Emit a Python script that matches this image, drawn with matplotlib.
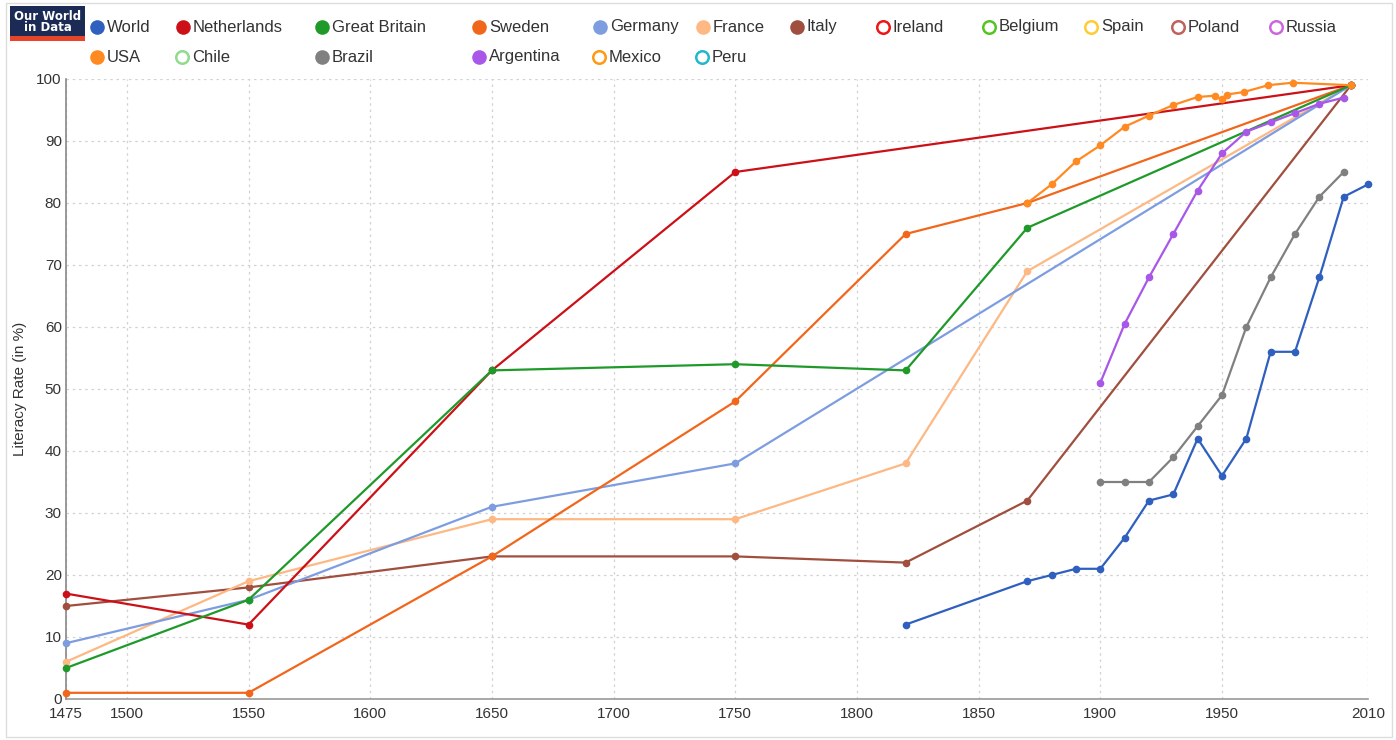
import matplotlib
matplotlib.use("Agg")
import matplotlib.pyplot as plt
from matplotlib.patches import Rectangle

plt.rcParams['font.family'] = ['Liberation Sans', 'DejaVu Sans']

# ---- data ----
world_years = [1820, 1870, 1880, 1890, 1900, 1910, 1920, 1930, 1940, 1950, 1960, 1970, 1980, 1990, 2000, 2010]
world = [12, 19, 20, 21, 21, 26, 32, 33, 42, 36, 42, 56, 56, 68, 81, 83]

netherlands_years = [1475, 1550, 1650, 1750, 2003]
netherlands = [17, 12, 53, 85, 99]

gb_years = [1475, 1550, 1650, 1750, 1820, 1870, 2003]
gb = [5, 16, 53, 54, 53, 76, 99]

sweden_years = [1475, 1550, 1650, 1750, 1820, 1870, 2003]
sweden = [1, 1, 23, 48, 75, 80, 99]

germany_years = [1475, 1550, 1650, 1750, 2003]
germany = [9, 16, 31, 38, 99]

france_years = [1475, 1550, 1650, 1750, 1820, 1870, 2003]
france = [6, 19, 29, 29, 38, 69, 99]

italy_years = [1475, 1550, 1650, 1750, 1820, 1870, 2003]
italy = [15, 18, 23, 23, 22, 32, 99]

usa_years = [1870, 1880, 1890, 1900, 1910, 1920, 1930, 1940, 1947, 1950, 1952, 1959, 1969, 1979, 2003]
usa = [80, 83, 86.7, 89.3, 92.3, 94.1, 95.8, 97.1, 97.3, 96.7, 97.5, 97.9, 99, 99.4, 99]

brazil_years = [1900, 1910, 1920, 1930, 1940, 1950, 1960, 1970, 1980, 1990, 2000]
brazil = [35, 35, 35, 39, 44, 49, 60, 68, 75, 81, 85]

argentina_years = [1900, 1910, 1920, 1930, 1940, 1950, 1960, 1970, 1980, 1990, 2000]
argentina = [51, 60.5, 68, 75, 82, 88, 91.5, 93, 94.5, 96, 97]

x_ticks = [1475, 1500, 1550, 1600, 1650, 1700, 1750, 1800, 1850, 1900, 1950, 2010]
y_ticks = [0, 10, 20, 30, 40, 50, 60, 70, 80, 90, 100]

# legend entries: (name, colour, filled, x marker pixel, row)
legend_items = [
    ("World", "#2f5fbf", True, 97, 0),
    ("Netherlands", "#cc1018", True, 183, 0),
    ("Great Britain", "#1f9a2a", True, 322, 0),
    ("Sweden", "#f2661c", True, 479, 0),
    ("Germany", "#7d9de0", True, 600, 0),
    ("France", "#fdb884", True, 703, 0),
    ("Italy", "#a04e3e", True, 797, 0),
    ("Ireland", "#ee1515", False, 883, 0),
    ("Belgium", "#55c423", False, 989, 0),
    ("Spain", "#ffcc33", False, 1091, 0),
    ("Poland", "#c0625a", False, 1178, 0),
    ("Russia", "#cc66dd", False, 1276, 0),
    ("USA", "#ff8a22", True, 97, 1),
    ("Chile", "#8fdc8f", False, 182, 1),
    ("Brazil", "#808080", True, 322, 1),
    ("Argentina", "#a957e8", True, 479, 1),
    ("Mexico", "#ff9a10", False, 599, 1),
    ("Peru", "#22b8cc", False, 702, 1),
]
colors = {name: c for name, c, _, _, _ in legend_items}

W, H = 1396, 740
fig = plt.figure(figsize=(W / 100, H / 100), dpi=100)
ax = fig.add_axes([66 / W, 1 - 699 / H, (1368 - 66) / W, (699 - 79) / H])

series = [
    ("Italy", italy_years, italy),
    ("France", france_years, france),
    ("Germany", germany_years, germany),
    ("Sweden", sweden_years, sweden),
    ("Netherlands", netherlands_years, netherlands),
    ("Great Britain", gb_years, gb),
    ("USA", usa_years, usa),
    ("Brazil", brazil_years, brazil),
    ("Argentina", argentina_years, argentina),
    ("World", world_years, world),
]
for name, xs, ys in series:
    ax.plot(xs, ys, color=colors[name], lw=1.6, marker='o', ms=5.5,
            markeredgewidth=0, solid_joinstyle='round', zorder=3, clip_on=False)

ax.set_xlim(1475, 2010)
ax.set_ylim(0, 100)
ax.set_xticks(x_ticks)
ax.set_yticks(y_ticks)
ax.tick_params(length=0, labelsize=11, colors='#333333', pad=6)
ax.tick_params(axis='y', pad=3)
ax.grid(True, color='#d2d2d2', linestyle=(0, (2, 3)), lw=0.9)
for t in ax.get_xgridlines():
    if abs(t.get_xdata()[0] - 2010) < 1 or abs(t.get_xdata()[0] - 1475) < 1:
        t.set_visible(False)
for s in ['top', 'right']:
    ax.spines[s].set_visible(False)
ax.spines['left'].set_color('#888888')
ax.spines['left'].set_linewidth(1.2)
ax.spines['bottom'].set_color('#999999')
ax.spines['bottom'].set_linestyle((0, (4, 1)))
ax.spines['bottom'].set_linewidth(1.2)
ax.set_ylabel("Literacy Rate (in %)", fontsize=11, color='#333333', labelpad=7)

# overlay in pixel coordinates for logo, legend and frame
ov = fig.add_axes([0, 0, 1, 1], zorder=5)
ov.set_xlim(0, W)
ov.set_ylim(H, 0)
ov.axis('off')
ov.patch.set_alpha(0)

ov.add_patch(Rectangle((6, 3), W - 10, H - 6, fill=False, ec='#dddddd', lw=1))
ov.add_patch(Rectangle((10, 6), 75, 32, fc='#1b2b55', ec='none'))
ov.add_patch(Rectangle((10, 36), 75, 5, fc='#e8442a', ec='none'))
ov.text(47.5, 22, "Our World\nin Data", color='white', fontsize=8.5, ha='center', va='center',
        linespacing=0.85, fontweight='bold', family='Liberation Sans Narrow')

row_y = [27, 57]
for name, c, filled, mx, row in legend_items:
    y = row_y[row]
    if filled:
        ov.plot([mx], [y], marker='o', ms=10.5, color=c, mec=c, mew=0)
    else:
        ov.plot([mx], [y], marker='o', ms=9, mfc='white', mec=c, mew=1.8)
    ov.text(mx + 10, y, name, fontsize=12, color='#333333', va='center', ha='left')

fig.savefig("out.png", dpi=100)
